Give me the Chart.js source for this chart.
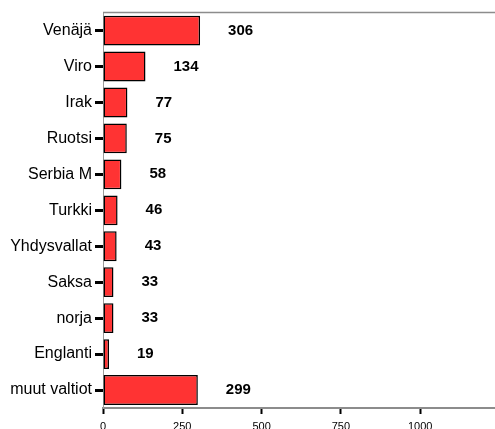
<!DOCTYPE html>
<html>
<head>
<meta charset="utf-8">
<script src="https://cdn.jsdelivr.net/npm/chart.js@4/dist/chart.umd.min.js"></script>
<style>
  html, body { margin: 0; padding: 0; background: #fff; }
  canvas { display: block; }
</style>
</head>
<body>
<canvas id="barChart" width="495" height="429"></canvas>
<script>
const countries = ['Venäjä', 'Viro', 'Irak', 'Ruotsi', 'Serbia M', 'Turkki', 'Yhdysvallat', 'Saksa', 'norja', 'Englanti', 'muut valtiot'];
const counts = [306, 134, 77, 75, 58, 46, 43, 33, 33, 19, 299];
const xTicks = [0, 250, 500, 750, 1000];
const xMax = 1236;

// bold number printed a fixed gap to the right of each bar
const valueLabels = {
  id: 'valueLabels',
  afterDatasetsDraw(chart) {
    const ctx = chart.ctx;
    const meta = chart.getDatasetMeta(0);
    ctx.save();
    ctx.font = 'bold 15px "Liberation Sans", Arial, sans-serif';
    ctx.fillStyle = '#000';
    ctx.textAlign = 'left';
    ctx.textBaseline = 'middle';
    meta.data.forEach((bar, i) => {
      ctx.fillText(String(counts[i]), bar.x + 28, bar.y);
    });
    ctx.restore();
  }
};

// grey frame line along the top of the plot
const topLine = {
  id: 'topLine',
  afterDraw(chart) {
    const a = chart.chartArea;
    const ctx = chart.ctx;
    ctx.save();
    ctx.strokeStyle = '#8c8c8c';
    ctx.lineWidth = 1.5;
    ctx.beginPath();
    ctx.moveTo(a.left, a.top);
    ctx.lineTo(a.right, a.top);
    ctx.stroke();
    ctx.restore();
  }
};

new Chart(document.getElementById('barChart'), {
  type: 'bar',
  data: {
    labels: countries,
    datasets: [{
      data: counts,
      backgroundColor: '#ff3333',
      borderColor: '#000',
      borderWidth: 1.5,
      borderSkipped: false,
      barPercentage: 0.83,
      categoryPercentage: 1
    }]
  },
  options: {
    indexAxis: 'y',
    responsive: false,
    animation: false,
    layout: { padding: { top: 12, right: 0, left: 0, bottom: 0 } },
    plugins: {
      legend: { display: false },
      tooltip: { enabled: false }
    },
    scales: {
      x: {
        min: 0,
        max: xMax,
        afterBuildTicks(axis) {
          axis.ticks = xTicks.map(v => ({ value: v }));
        },
        afterFit(axis) { axis.height = 21; },
        ticks: {
          color: '#000',
          padding: 6,
          callback: v => String(v),
          font: { family: '"Liberation Sans", Arial, sans-serif', size: 11 }
        },
        grid: {
          drawOnChartArea: false,
          tickLength: 6,
          tickColor: '#000',
          tickWidth: 2
        },
        border: { color: '#8c8c8c', width: 2 }
      },
      y: {
        afterFit(axis) { axis.width = 103; },
        ticks: {
          color: '#000',
          padding: 3,
          font: { family: '"Liberation Sans", Arial, sans-serif', size: 16 }
        },
        grid: {
          offset: false,
          drawOnChartArea: false,
          tickLength: 8,
          tickColor: '#000',
          tickWidth: 3
        },
        border: { color: '#9a9a9a', width: 1 }
      }
    }
  },
  plugins: [valueLabels, topLine]
});
</script>
</body>
</html>
